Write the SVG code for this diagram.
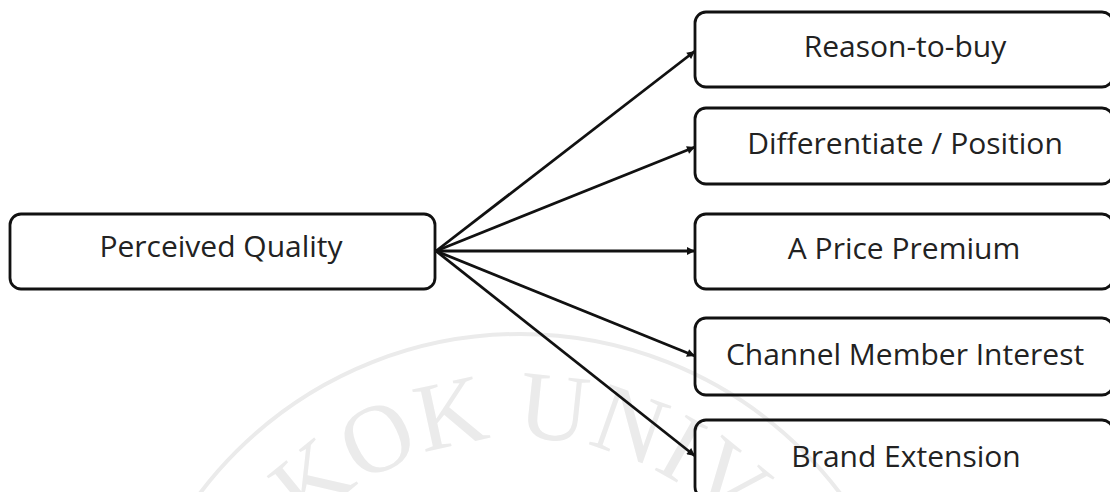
<svg xmlns="http://www.w3.org/2000/svg" width="1110" height="492" viewBox="0 0 1110 492">
  <style>
    .box { fill: none; stroke: #111111; stroke-width: 2.8; }
    .lbl { font-family: "Open Sans", "Noto Sans", sans-serif; font-size: 30px; fill: #222222; text-anchor: middle; }
    .conn { stroke: #111111; stroke-width: 2.8; fill: none; marker-end: url(#arrow); }
    .wm { fill: #ebebeb; font-family: "Liberation Serif", serif; font-size: 97px; }
  </style>
  <defs>
    <marker id="arrow" viewBox="0 0 10 10" refX="10" refY="5" markerWidth="10" markerHeight="8" markerUnits="userSpaceOnUse" orient="auto">
      <path d="M0,0 L10,5 L0,10 z" fill="#111111"/>
    </marker>
    <path id="wmArc" d="M 310,525 A 297 297 0 0 1 730,525"/>
  </defs>
  <rect width="1110" height="492" fill="#ffffff"/>

  <g id="watermark">
    <circle cx="520" cy="735" r="401" fill="none" stroke="#ebebeb" stroke-width="4"/>
    <text class="wm"><textPath href="#wmArc" startOffset="50%" text-anchor="middle">KOK UNIV</textPath></text>
  </g>

  <g id="connectors">
    <line class="conn" x1="436" y1="251" x2="695" y2="51"/>
    <line class="conn" x1="436" y1="251" x2="695" y2="147"/>
    <line class="conn" x1="436" y1="251" x2="695" y2="251"/>
    <line class="conn" x1="436" y1="251" x2="695" y2="356"/>
    <line class="conn" x1="436" y1="251" x2="695" y2="456"/>
  </g>

  <g id="perceived-quality">
    <rect class="box" x="10" y="214" width="425" height="75" rx="11"/>
    <text class="lbl" x="221" y="257">Perceived Quality</text>
  </g>
  <g id="reason-to-buy">
    <rect class="box" x="695" y="12" width="418" height="75" rx="11"/>
    <text class="lbl" x="905" y="57">Reason-to-buy</text>
  </g>
  <g id="differentiate-position">
    <rect class="box" x="695" y="108" width="418" height="76" rx="11"/>
    <text class="lbl" x="905" y="154">Differentiate / Position</text>
  </g>
  <g id="price-premium">
    <rect class="box" x="695" y="214" width="418" height="75" rx="11"/>
    <text class="lbl" x="904" y="259">A Price Premium</text>
  </g>
  <g id="channel-member-interest">
    <rect class="box" x="695" y="318" width="418" height="77" rx="11"/>
    <text class="lbl" x="905" y="365">Channel Member Interest</text>
  </g>
  <g id="brand-extension">
    <rect class="box" x="695" y="420" width="418" height="78" rx="11"/>
    <text class="lbl" x="906" y="467">Brand Extension</text>
  </g>
</svg>
